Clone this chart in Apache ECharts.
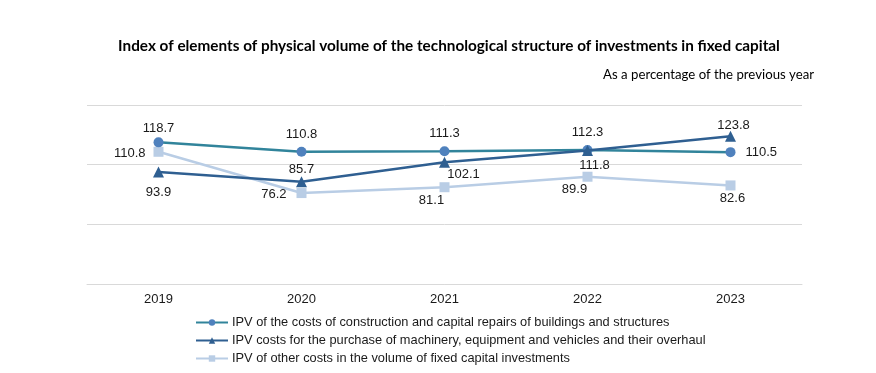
<!DOCTYPE html>
<html><head><meta charset="utf-8">
<script src="https://cdn.jsdelivr.net/npm/echarts@6/dist/echarts.min.js"></script>
<style>html,body{margin:0;padding:0;background:#fff}#c{width:876px;height:373px}</style>
</head><body><div id="c"></div>
<script>
var categories = ['2019', '2020', '2021', '2022', '2023'];
var construction = [118.7, 110.8, 111.3, 112.3, 110.5];
var machinery = [93.9, 85.7, 102.1, 111.8, 123.8];
var otherCosts = [110.8, 76.2, 81.1, 89.9, 82.6];
var seriesNames = [
  'IPV of the costs of construction and capital repairs of buildings and structures',
  'IPV costs for the purchase of machinery, equipment and vehicles and their overhaul',
  'IPV of other costs in the volume of fixed capital investments'
];

var pos1 = [{p:'top',o:[0,4]},{p:'top'},{p:'top'},{p:'top'},{p:'right',o:[4,0]}];
var pos2 = [{p:'bottom',o:[0,2]},{p:'top',o:[0,6]},{p:'bottom',o:[19,-6]},{p:'bottom',o:[7,-3]},{p:'top',o:[3,7]}];
var pos3 = [{p:'left',o:[-2,2]},{p:'left',o:[-4,1]},{p:'bottom',o:[-13,-4]},{p:'bottom',o:[-13,-5]},{p:'bottom',o:[2,-5]}];

function mk(vals, pos) {
  return vals.map(function (v, i) {
    return { value: v, label: { position: pos[i].p, offset: pos[i].o || [0, 0] } };
  });
}

var chart = echarts.init(document.getElementById('c'));
var lbl = { show: true, color: '#1a1a1a', fontFamily: 'Liberation Sans, Arial', fontSize: 13, distance: 6 };
chart.setOption({
  animation: false,
  title: [{
    text: 'Index of elements of physical volume of the technological structure of investments in fixed capital',
    left: 444, top: 34, textAlign: 'center',
    textStyle: { fontFamily: 'Lato', fontWeight: 'bold', fontSize: 15.3, color: '#000' }
  }, {
    text: 'As a percentage of the previous year',
    right: 57, top: 63,
    textStyle: { fontFamily: 'Lato', fontWeight: 'normal', fontSize: 13.2, color: '#000' }
  }],
  grid: { left: 87, right: 74, top: 105, bottom: 89 },
  legend: {
    orient: 'vertical', left: 195, top: 316, padding: 0, itemWidth: 32, itemHeight: 8, itemGap: 5,
    textStyle: { fontFamily: 'Liberation Sans, Arial', fontSize: 12.8, color: '#1a1a1a', padding: [0, 0, 0, -1] },
    data: seriesNames
  },
  xAxis: {
    type: 'category', data: categories, boundaryGap: true,
    axisLine: { lineStyle: { color: '#d9d9d9', width: 1 } },
    axisTick: { show: false },
    axisLabel: { color: '#1a1a1a', fontFamily: 'Liberation Sans, Arial', fontSize: 13, margin: 9 }
  },
  yAxis: {
    type: 'value', min: 0, max: 150, interval: 50,
    axisLabel: { show: false }, axisLine: { show: false }, axisTick: { show: false },
    splitLine: { lineStyle: { color: '#d9d9d9', width: 1 } }
  },
  series: [{
    name: seriesNames[0], type: 'line', data: mk(construction, pos1),
    symbol: 'circle', symbolSize: 10,
    lineStyle: { color: '#31849b', width: 2.5 },
    itemStyle: { color: '#4f81bd' },
    label: lbl, z: 3
  }, {
    name: seriesNames[1], type: 'line', data: mk(machinery, pos2),
    symbol: 'triangle', symbolSize: 11,
    lineStyle: { color: '#2f5f91', width: 2.5 },
    itemStyle: { color: '#2f5f91' },
    label: lbl, z: 4
  }, {
    name: seriesNames[2], type: 'line', data: mk(otherCosts, pos3),
    symbol: 'rect', symbolSize: 10,
    lineStyle: { color: '#b9cde5', width: 2.5 },
    itemStyle: { color: '#b9cde5' },
    label: lbl, z: 2
  }]
});
</script></body></html>
